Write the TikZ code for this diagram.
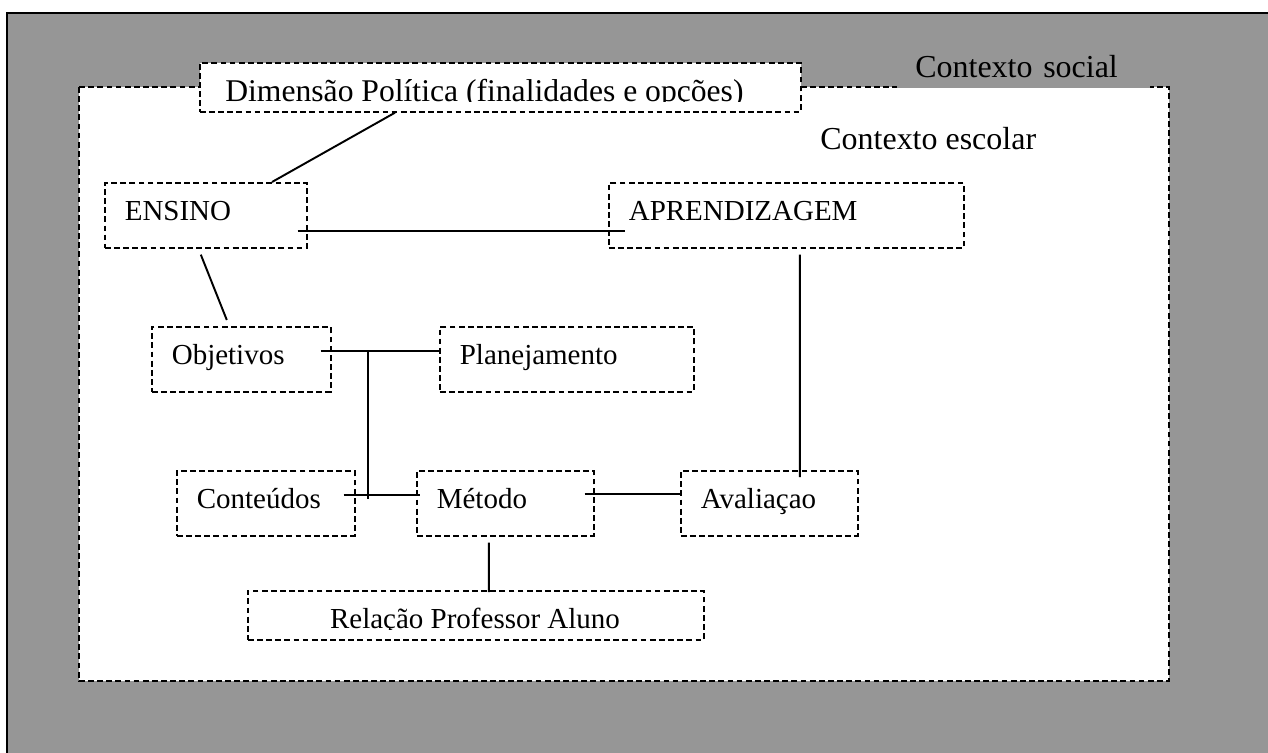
\documentclass[tikz,border=0pt]{standalone}
\usepackage{fontspec}
\setmainfont{Liberation Serif}
\usetikzlibrary{calc}
\definecolor{socialgray}{RGB}{150,150,150}
\newcommand{\labfont}{\fontsize{16.5}{19}\selectfont}
\newcommand{\ctxfont}{\fontsize{18.2}{21}\selectfont}
\newcommand{\dimfont}{\fontsize{18}{20}\selectfont}

\begin{document}
\begin{tikzpicture}[x=0.02cm,y=-0.02cm,
  dashline/.style={line width=0.95pt,dash pattern=on 3.3pt off 1.9pt},
  lbox/.style={dashline,draw,fill=white,anchor=north west,minimum height=1.3cm,
    inner xsep=0.4cm,inner ysep=0pt,text height=0.4cm,text depth=0.18cm,align=left,font=\labfont},
  flatbox/.style={dashline,draw,fill=white,anchor=north west,minimum height=0.98cm,inner sep=0pt},
  link/.style={line width=1.1pt}]
  \clip (0,0) rectangle (1268,752);
  % contexto social e contexto escolar
  \draw[line width=1.1pt,fill=socialgray] (7,13) rectangle (1300,790);
  \draw[dashline,fill=white] (79,87) rectangle (1169,681);
  \node[fill=socialgray,anchor=base west,inner xsep=0.36cm,inner ysep=0pt,text width=4.34cm,
    text height=0.5cm,text depth=0.22cm,font=\ctxfont] (social) at (897,77) {Contexto social};
  \node[anchor=base west,inner sep=0pt,font=\ctxfont] (escolar) at (820,149) {Contexto escolar};
  % dimensao politica
  \node[flatbox,minimum width=12.02cm] (dim) at (199,62) {};
  \begin{scope}
    \clip (199,62) rectangle (800,101.8);
    \node[anchor=base west,inner sep=0pt,font=\dimfont] (dimtext) at (225,101.5) {Dimensão Política (finalidades e opções)};
  \end{scope}
  % caixas
  \node[lbox,text width=3.24cm] (ensino) at (104,182) {ENSINO};
  \node[lbox,text width=6.3cm] (aprend) at (608,182) {APRENDIZAGEM};
  \node[lbox,text width=2.78cm] (objet) at (151,326) {Objetivos};
  \node[lbox,text width=4.28cm] (planej) at (439,326) {Planejamento};
  \node[lbox,text width=2.76cm] (conteu) at (176,470) {Conteúdos};
  \node[lbox,text width=2.74cm] (metodo) at (416,470) {Método};
  \node[lbox,text width=2.74cm] (aval) at (680,470) {Avaliaçao};
  \node[flatbox,minimum width=9.12cm] (relacao) at (247,590) {};
  \begin{scope}
    \clip (247,590) rectangle (703,629.5);
    \node[anchor=base,inner sep=0pt,font=\labfont] (reltext) at (475,628) {Relação Professor Aluno};
  \end{scope}
  % ligacoes
  \draw[link] ([shift={(196,0)}]dim.south west) -- ([shift={(168,0)}]ensino.north west);
  \draw[link] ([shift={(-10,15.5)}]ensino.east) -- ([shift={(17,15.5)}]aprend.west);
  \draw[link] ([shift={(-5,6)}]ensino.south) -- ([shift={(-14.5,-6)}]objet.north);
  \draw[link] ([shift={(-11,-8.5)}]objet.east) -- ([shift={(0,-8.5)}]planej.west);
  \draw[link] ([shift={(-12,-8.5)}]conteu.east) -- ([shift={(4,-8.5)}]metodo.west);
  \coordinate (jtop) at (368,350);
  \coordinate (jbot) at (368,499);
  \draw[link] (jtop) -- (jbot);
  \draw[link] ([shift={(-10,-9.5)}]metodo.east) -- ([shift={(0,-9.5)}]aval.west);
  \draw[link] ([shift={(-16.5,6)}]metodo.south) -- ([shift={(13,2)}]relacao.north);
  \draw[link] ([shift={(13.5,6)}]aprend.south) -- ([shift={(30.5,7)}]aval.north);
\end{tikzpicture}
\end{document}
